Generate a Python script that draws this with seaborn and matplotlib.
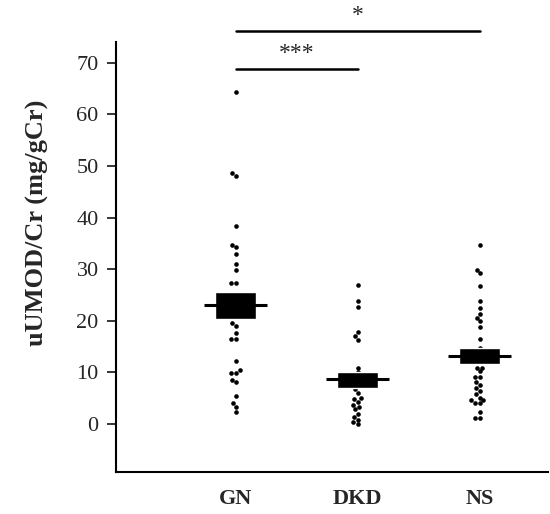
import matplotlib
matplotlib.use("Agg")
import matplotlib.pyplot as plt
import numpy as np
import pandas as pd
import seaborn as sns

# Data (uUMOD/Cr, mg/gCr)
groups = ["GN", "DKD", "NS"]
gn_values = [64.4, 48.7, 48.1, 38.3, 34.7, 34.2, 32.9, 31.0, 29.9, 27.3, 27.3,
             19.5, 18.9, 17.7, 16.4, 16.4, 12.2, 10.4, 9.9, 9.9, 8.6, 8.1,
             5.4, 4.0, 3.2, 2.3]
dkd_values = [26.9, 23.8, 22.6, 17.8, 17.0, 16.2, 10.9, 10.0, 6.8, 6.0, 5.0,
              4.8, 4.3, 3.6, 3.3, 2.8, 2.0, 1.4, 0.8, 0.3, -0.1]
ns_values = [34.7, 29.9, 29.2, 26.7, 23.8, 22.5, 21.3, 20.6, 19.9, 18.7, 16.4,
             14.8, 10.9, 10.9, 10.2, 9.1, 9.1, 8.1, 7.5, 6.9, 6.3, 5.7, 5.1,
             4.6, 4.6, 4.1, 4.1, 2.3, 1.2, 1.2]

# summary boxes (centre line, lower and upper edge)
box_center = [23.0, 8.7, 13.2]
box_low = [20.3, 7.0, 11.6]
box_high = [25.6, 10.1, 14.7]

# significance brackets: (group a, group b, height, label)
brackets = [("GN", "DKD", 68.8, "***"), ("GN", "NS", 76.2, "*")]

df = pd.DataFrame({
    "group": ["GN"] * len(gn_values) + ["DKD"] * len(dkd_values) + ["NS"] * len(ns_values),
    "value": gn_values + dkd_values + ns_values,
})

sns.set_style("ticks")
plt.rcParams["font.family"] = ["Liberation Serif", "DejaVu Serif"]

fig = plt.figure(figsize=(5.5, 5.14), dpi=100)
ax = fig.add_axes([0.211, 0.081, 0.785, 0.837])

sns.swarmplot(data=df, x="group", y="value", order=groups, color="black",
              size=3.3, ax=ax, zorder=2)

pos = np.arange(len(groups))
heights = np.array(box_high) - np.array(box_low)
ax.bar(pos, heights, bottom=box_low, width=0.33, color="black", zorder=3)
ax.hlines(box_center, pos - 0.26, pos + 0.26, color="black", lw=2.2, zorder=3)

for a, b, h, label in brackets:
    xa, xb = groups.index(a), groups.index(b)
    ax.plot([xa, xb], [h, h], color="black", lw=1.8, clip_on=False)
    ax.text((xa + xb) / 2, h + 1.0, label, ha="center", va="bottom",
            fontsize=17, clip_on=False)

ax.set_xlim(-0.98, 2.56)
ax.set_ylim(-9.4, 74)
ax.set_yticks(range(0, 71, 10))
ax.set_xlabel("")
ax.set_ylabel("uUMOD/Cr (mg/gCr)", fontsize=19, fontweight="bold")
ax.yaxis.set_label_coords(-0.155, 0.58)

ax.tick_params(axis="y", labelsize=16, length=6.5, width=1.3, pad=6)
ax.tick_params(axis="x", labelsize=16, length=0, pad=12)
for lab in ax.get_xticklabels():
    lab.set_fontweight("bold")

sns.despine(ax=ax)
for side in ["left", "bottom"]:
    ax.spines[side].set_linewidth(1.5)
    ax.spines[side].set_color("black")

fig.savefig("out.png", dpi=100)
